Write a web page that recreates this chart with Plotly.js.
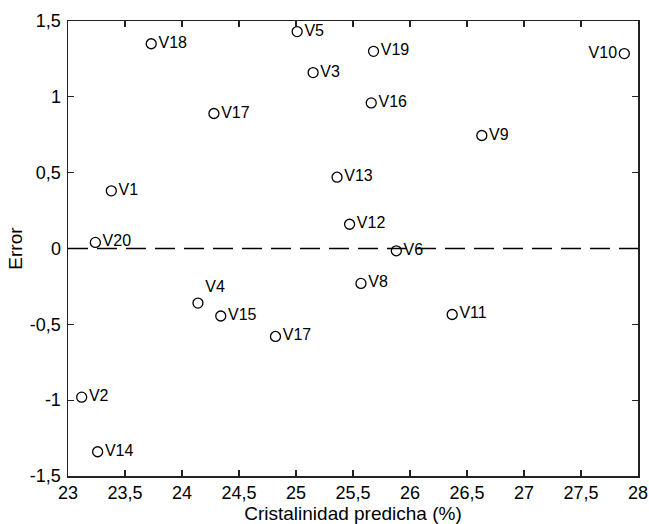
<!DOCTYPE html>
<html>
<head>
<meta charset="utf-8">
<script src="https://cdn.plot.ly/plotly-3.0.1.min.js"></script>
<style>html,body{margin:0;padding:0;background:#fff;}#chart{width:649px;height:524px;}</style>
</head>
<body>
<div id="chart"></div>
<script>
// Data
const labels = ['V18','V5','V3','V17','V1','V20','V19','V10','V16','V9','V13','V12','V6','V4','V15','V17','V2','V14','V8','V11'];
const predicted = [23.73,25.01,25.15,24.28,23.38,23.24,25.68,27.88,25.66,26.63,25.36,25.47,25.88,24.14,24.34,24.82,23.12,23.26,25.57,26.37];
const errors = [1.35,1.43,1.16,0.89,0.38,0.04,1.30,1.285,0.96,0.745,0.47,0.16,-0.015,-0.36,-0.445,-0.58,-0.98,-1.34,-0.23,-0.435];
const labelPos = ['middle right','middle right','middle right','middle right','middle right','middle right','middle right','middle left','middle right','middle right','middle right','middle right','middle right','top right','middle right','middle right','middle right','middle right','middle right','middle right'];

const xTickVals = [23,23.5,24,24.5,25,25.5,26,26.5,27,27.5,28];
const xTickText = ['23','23,5','24','24,5','25','25,5','26','26,5','27','27,5','28'];
const yTickVals = [-1.5,-1,-0.5,0,0.5,1,1.5];
const yTickText = ['-1,5','-1','-0,5','0','0,5','1','1,5'];

const FONT = 'Arial, "Liberation Sans", sans-serif';

const trace = {
  x: predicted,
  y: errors,
  text: labels,
  mode: 'markers+text',
  type: 'scatter',
  textposition: labelPos,
  textfont: {family: FONT, size: 16, color: '#000'},
  marker: {symbol: 'circle-open', size: 10, color: '#000', line: {width: 1.3, color: '#000'}},
  hoverinfo: 'x+y+text',
  showlegend: false,
  cliponaxis: false
};

const layout = {
  width: 649,
  height: 524,
  margin: {l: 68, r: 11, t: 21, b: 48},
  paper_bgcolor: '#fff',
  plot_bgcolor: '#fff',
  font: {family: FONT, size: 18, color: '#000'},
  showlegend: false,
  xaxis: {
    range: [23, 28],
    tickvals: xTickVals,
    ticktext: xTickText,
    ticks: 'inside',
    ticklen: 6,
    tickwidth: 1.2,
    tickcolor: '#222',
    showline: true,
    linecolor: '#222',
    linewidth: 1.5,
    mirror: 'ticks',
    showgrid: false,
    zeroline: false,
    tickfont: {family: FONT, size: 18, color: '#000'},
    title: {text: 'Cristalinidad predicha (%)', font: {family: FONT, size: 19, color: '#000'}, standoff: 4},
    automargin: false
  },
  yaxis: {
    range: [-1.5, 1.5],
    tickvals: yTickVals,
    ticktext: yTickText,
    ticks: 'inside',
    ticklen: 6,
    tickwidth: 1.2,
    tickcolor: '#222',
    showline: true,
    linecolor: '#222',
    linewidth: 1.5,
    mirror: 'ticks',
    showgrid: false,
    zeroline: false,
    tickfont: {family: FONT, size: 18, color: '#000'},
    ticklabelstandoff: 2,
    title: {text: 'Error', font: {family: FONT, size: 19, color: '#000'}, standoff: 2},
    automargin: false
  },
  shapes: [{
    type: 'line', xref: 'paper', yref: 'y', x0: 0, x1: 1, y0: 0, y1: 0,
    line: {color: '#000', width: 1.3, dash: '20px,9px'}
  }]
};

Plotly.newPlot('chart', [trace], layout, {displayModeBar: false, staticPlot: true});
</script>
</body>
</html>
